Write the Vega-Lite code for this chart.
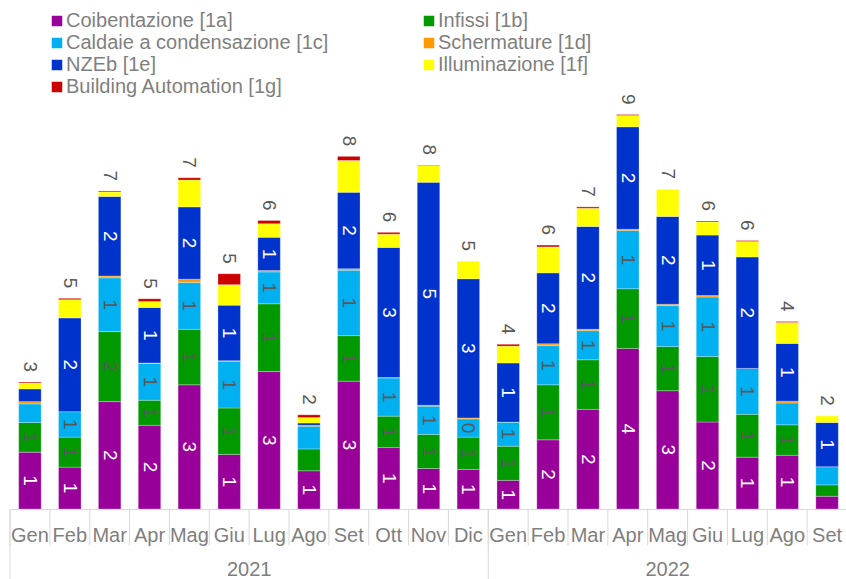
{
  "$schema": "https://vega.github.io/schema/vega-lite/v6.json",
  "width": 837,
  "height": 455,
  "padding": {"left": 9, "top": 11, "right": 0, "bottom": 0},
  "config": {"font": "Liberation Sans", "view": {"stroke": null}},
  "datasets": {
    "bars": [
      {"m":"2021-01","s":"1a","v":1.25,"l":"1"},{"m":"2021-01","s":"1b","v":0.65,"l":"1"},{"m":"2021-01","s":"1c","v":0.41,"l":""},{"m":"2021-01","s":"1d","v":0.05,"l":""},{"m":"2021-01","s":"1e","v":0.28,"l":""},{"m":"2021-01","s":"1f","v":0.13,"l":""},{"m":"2021-01","s":"1g","v":0.02,"l":""},
      {"m":"2021-02","s":"1a","v":0.92,"l":"1"},{"m":"2021-02","s":"1b","v":0.66,"l":"1"},{"m":"2021-02","s":"1c","v":0.56,"l":"1"},{"m":"2021-02","s":"1d","v":0,"l":""},{"m":"2021-02","s":"1e","v":2.06,"l":"2"},{"m":"2021-02","s":"1f","v":0.40,"l":""},{"m":"2021-02","s":"1g","v":0.03,"l":""},
      {"m":"2021-03","s":"1a","v":2.36,"l":"2"},{"m":"2021-03","s":"1b","v":1.54,"l":"2"},{"m":"2021-03","s":"1c","v":1.18,"l":"1"},{"m":"2021-03","s":"1d","v":0.04,"l":""},{"m":"2021-03","s":"1e","v":1.75,"l":"2"},{"m":"2021-03","s":"1f","v":0.10,"l":""},{"m":"2021-03","s":"1g","v":0.02,"l":""},
      {"m":"2021-04","s":"1a","v":1.84,"l":"2"},{"m":"2021-04","s":"1b","v":0.55,"l":"1"},{"m":"2021-04","s":"1c","v":0.81,"l":"1"},{"m":"2021-04","s":"1d","v":0.01,"l":""},{"m":"2021-04","s":"1e","v":1.22,"l":"1"},{"m":"2021-04","s":"1f","v":0.13,"l":""},{"m":"2021-04","s":"1g","v":0.06,"l":""},
      {"m":"2021-05","s":"1a","v":2.73,"l":"3"},{"m":"2021-05","s":"1b","v":1.22,"l":"1"},{"m":"2021-05","s":"1c","v":1.03,"l":"1"},{"m":"2021-05","s":"1d","v":0.07,"l":""},{"m":"2021-05","s":"1e","v":1.59,"l":"2"},{"m":"2021-05","s":"1f","v":0.59,"l":""},{"m":"2021-05","s":"1g","v":0.05,"l":""},
      {"m":"2021-06","s":"1a","v":1.20,"l":"1"},{"m":"2021-06","s":"1b","v":1.02,"l":"1"},{"m":"2021-06","s":"1c","v":1.03,"l":"1"},{"m":"2021-06","s":"1d","v":0.01,"l":""},{"m":"2021-06","s":"1e","v":1.22,"l":"1"},{"m":"2021-06","s":"1f","v":0.45,"l":""},{"m":"2021-06","s":"1g","v":0.24,"l":""},
      {"m":"2021-07","s":"1a","v":3.02,"l":"3"},{"m":"2021-07","s":"1b","v":1.49,"l":"1"},{"m":"2021-07","s":"1c","v":0.70,"l":"1"},{"m":"2021-07","s":"1d","v":0.03,"l":""},{"m":"2021-07","s":"1e","v":0.73,"l":"1"},{"m":"2021-07","s":"1f","v":0.30,"l":""},{"m":"2021-07","s":"1g","v":0.07,"l":""},
      {"m":"2021-08","s":"1a","v":0.84,"l":"1"},{"m":"2021-08","s":"1b","v":0.48,"l":""},{"m":"2021-08","s":"1c","v":0.50,"l":""},{"m":"2021-08","s":"1d","v":0.02,"l":""},{"m":"2021-08","s":"1e","v":0.05,"l":""},{"m":"2021-08","s":"1f","v":0.12,"l":""},{"m":"2021-08","s":"1g","v":0.06,"l":""},
      {"m":"2021-09","s":"1a","v":2.81,"l":"3"},{"m":"2021-09","s":"1b","v":1.00,"l":"1"},{"m":"2021-09","s":"1c","v":1.44,"l":"1"},{"m":"2021-09","s":"1d","v":0.03,"l":""},{"m":"2021-09","s":"1e","v":1.68,"l":"2"},{"m":"2021-09","s":"1f","v":0.70,"l":""},{"m":"2021-09","s":"1g","v":0.09,"l":""},
      {"m":"2021-10","s":"1a","v":1.35,"l":"1"},{"m":"2021-10","s":"1b","v":0.69,"l":"1"},{"m":"2021-10","s":"1c","v":0.84,"l":"1"},{"m":"2021-10","s":"1d","v":0.01,"l":""},{"m":"2021-10","s":"1e","v":2.86,"l":"3"},{"m":"2021-10","s":"1f","v":0.29,"l":""},{"m":"2021-10","s":"1g","v":0.04,"l":""},
      {"m":"2021-11","s":"1a","v":0.89,"l":"1"},{"m":"2021-11","s":"1b","v":0.75,"l":"1"},{"m":"2021-11","s":"1c","v":0.62,"l":"1"},{"m":"2021-11","s":"1d","v":0.02,"l":""},{"m":"2021-11","s":"1e","v":4.90,"l":"5"},{"m":"2021-11","s":"1f","v":0.37,"l":""},{"m":"2021-11","s":"1g","v":0.01,"l":""},
      {"m":"2021-12","s":"1a","v":0.87,"l":"1"},{"m":"2021-12","s":"1b","v":0.71,"l":"1"},{"m":"2021-12","s":"1c","v":0.40,"l":"0"},{"m":"2021-12","s":"1d","v":0.02,"l":""},{"m":"2021-12","s":"1e","v":3.06,"l":"3"},{"m":"2021-12","s":"1f","v":0.39,"l":""},{"m":"2021-12","s":"1g","v":0,"l":""},
      {"m":"2022-01","s":"1a","v":0.63,"l":"1"},{"m":"2022-01","s":"1b","v":0.75,"l":"1"},{"m":"2022-01","s":"1c","v":0.53,"l":"1"},{"m":"2022-01","s":"1d","v":0,"l":""},{"m":"2022-01","s":"1e","v":1.30,"l":"1"},{"m":"2022-01","s":"1f","v":0.37,"l":""},{"m":"2022-01","s":"1g","v":0.04,"l":""},
      {"m":"2022-02","s":"1a","v":1.52,"l":"2"},{"m":"2022-02","s":"1b","v":1.21,"l":"1"},{"m":"2022-02","s":"1c","v":0.86,"l":"1"},{"m":"2022-02","s":"1d","v":0.04,"l":""},{"m":"2022-02","s":"1e","v":1.56,"l":"2"},{"m":"2022-02","s":"1f","v":0.57,"l":""},{"m":"2022-02","s":"1g","v":0.04,"l":""},
      {"m":"2022-03","s":"1a","v":2.19,"l":"2"},{"m":"2022-03","s":"1b","v":1.09,"l":"1"},{"m":"2022-03","s":"1c","v":0.64,"l":"1"},{"m":"2022-03","s":"1d","v":0.03,"l":""},{"m":"2022-03","s":"1e","v":2.26,"l":"2"},{"m":"2022-03","s":"1f","v":0.40,"l":""},{"m":"2022-03","s":"1g","v":0.03,"l":""},
      {"m":"2022-04","s":"1a","v":3.53,"l":"4"},{"m":"2022-04","s":"1b","v":1.31,"l":"1"},{"m":"2022-04","s":"1c","v":1.28,"l":"1"},{"m":"2022-04","s":"1d","v":0.03,"l":""},{"m":"2022-04","s":"1e","v":2.25,"l":"2"},{"m":"2022-04","s":"1f","v":0.25,"l":""},{"m":"2022-04","s":"1g","v":0.02,"l":""},
      {"m":"2022-05","s":"1a","v":2.60,"l":"3"},{"m":"2022-05","s":"1b","v":0.97,"l":"1"},{"m":"2022-05","s":"1c","v":0.90,"l":"1"},{"m":"2022-05","s":"1d","v":0.03,"l":""},{"m":"2022-05","s":"1e","v":1.93,"l":"2"},{"m":"2022-05","s":"1f","v":0.60,"l":""},{"m":"2022-05","s":"1g","v":0,"l":""},
      {"m":"2022-06","s":"1a","v":1.91,"l":"2"},{"m":"2022-06","s":"1b","v":1.44,"l":"1"},{"m":"2022-06","s":"1c","v":1.31,"l":"1"},{"m":"2022-06","s":"1d","v":0.03,"l":""},{"m":"2022-06","s":"1e","v":1.33,"l":"1"},{"m":"2022-06","s":"1f","v":0.29,"l":""},{"m":"2022-06","s":"1g","v":0.02,"l":""},
      {"m":"2022-07","s":"1a","v":1.14,"l":"1"},{"m":"2022-07","s":"1b","v":0.94,"l":"1"},{"m":"2022-07","s":"1c","v":1.01,"l":"1"},{"m":"2022-07","s":"1d","v":0,"l":""},{"m":"2022-07","s":"1e","v":2.45,"l":"2"},{"m":"2022-07","s":"1f","v":0.34,"l":""},{"m":"2022-07","s":"1g","v":0.02,"l":""},
      {"m":"2022-08","s":"1a","v":1.18,"l":"1"},{"m":"2022-08","s":"1b","v":0.67,"l":"1"},{"m":"2022-08","s":"1c","v":0.48,"l":""},{"m":"2022-08","s":"1d","v":0.04,"l":""},{"m":"2022-08","s":"1e","v":1.27,"l":"1"},{"m":"2022-08","s":"1f","v":0.46,"l":""},{"m":"2022-08","s":"1g","v":0.02,"l":""},
      {"m":"2022-09","s":"1a","v":0.28,"l":""},{"m":"2022-09","s":"1b","v":0.25,"l":""},{"m":"2022-09","s":"1c","v":0.40,"l":""},{"m":"2022-09","s":"1d","v":0,"l":""},{"m":"2022-09","s":"1e","v":0.97,"l":"1"},{"m":"2022-09","s":"1f","v":0.15,"l":""},{"m":"2022-09","s":"1g","v":0,"l":""}
    ]
  },
  "layer": [
    {
      "data": {"name": "bars"},
      "mark": {"type": "bar", "width": 22.5, "stroke": "#ffffff", "strokeWidth": 0.6, "strokeOpacity": 0.45},
      "encoding": {
        "x": {"field": "m", "type": "ordinal", "scale": {"paddingInner": 0, "paddingOuter": 0},
          "axis": {"title": null, "labelAngle": 0, "labelExpr": "['Gen','Feb','Mar','Apr','Mag','Giu','Lug','Ago','Set','Ott','Nov','Dic'][toNumber(slice(datum.value,5))-1]",
            "labelFontSize": 20, "labelColor": "#7f7f7f", "labelOverlap": false, "labelBound": false,
            "ticks": false, "domainColor": "#d9d9d9", "labelPadding": 26, "labelBaseline": "middle"}},
        "y": {"field": "v", "type": "quantitative", "stack": "zero", "scale": {"domain": [0, 10], "nice": false}, "axis": null},
        "color": {"field": "s", "type": "nominal",
          "scale": {"domain": ["1a","1c","1e","1g","1b","1d","1f"], "range": ["#990099","#00b0f0","#0033cc","#cc0000","#009900","#ff9900","#ffff00"]},
          "legend": {"orient": "none", "legendX": 37, "legendY": -43, "columns": 2, "columnPadding": 90, "rowPadding": 2,
            "symbolType": "square", "symbolSize": 144, "labelFontSize": 20, "labelColor": "#7f7f7f",
            "title": null, "labelOffset": -1, "labelLimit": 400,
            "labelExpr": "datum.label=='1a'?'Coibentazione [1a]':datum.label=='1b'?'Infissi [1b]':datum.label=='1c'?'Caldaie a condensazione [1c]':datum.label=='1d'?'Schermature [1d]':datum.label=='1e'?'NZEb [1e]':datum.label=='1f'?'Illuminazione [1f]':'Building Automation [1g]'"}},
        "order": {"field": "s", "sort": "ascending"}
      }
    },
    {
      "data": {"name": "bars"},
      "transform": [
        {"stack": "v", "groupby": ["m"], "sort": [{"field": "s", "order": "ascending"}], "as": ["y0", "y1"]},
        {"calculate": "(datum.y0 + datum.y1) / 2", "as": "ym"},
        {"filter": "datum.l != ''"}
      ],
      "mark": {"type": "text", "angle": 90, "align": "center", "baseline": "middle", "fontSize": 19},
      "encoding": {
        "x": {"field": "m", "type": "ordinal"},
        "y": {"field": "ym", "type": "quantitative"},
        "text": {"field": "l"},
        "color": {"condition": {"test": "datum.s=='1a'||datum.s=='1e'", "value": "#ffffff"}, "value": "#595959"}
      }
    },
    {
      "data": {"name": "bars"},
      "transform": [{"aggregate": [{"op": "sum", "field": "v", "as": "tot"}], "groupby": ["m"]}],
      "mark": {"type": "text", "angle": 90, "align": "right", "baseline": "middle", "dx": -10, "fontSize": 19, "color": "#595959"},
      "encoding": {
        "x": {"field": "m", "type": "ordinal"},
        "y": {"field": "tot", "type": "quantitative"},
        "text": {"field": "tot", "type": "quantitative", "format": ".0f"}
      }
    },
    {
      "data": {"name": "bars"},
      "transform": [{"aggregate": [{"op": "count", "as": "n"}], "groupby": ["m"]}],
      "mark": {"type": "rule", "color": "#d9d9d9", "strokeWidth": 1},
      "encoding": {
        "x": {"field": "m", "type": "ordinal", "bandPosition": 0},
        "y": {"datum": 0},
        "y2": {"datum": -0.8}
      }
    },
    {
      "data": {"values": [{"m": "2021-01"}, {"m": "2022-01"}]},
      "mark": {"type": "rule", "color": "#d9d9d9", "strokeWidth": 1},
      "encoding": {
        "x": {"field": "m", "type": "ordinal", "bandPosition": 0},
        "y": {"datum": 0},
        "y2": {"datum": -1.54}
      }
    },
    {
      "data": {"values": [{"m": "2021-07", "year": "2021"}]},
      "mark": {"type": "text", "fontSize": 20, "color": "#7f7f7f", "baseline": "middle", "align": "center"},
      "encoding": {
        "x": {"field": "m", "type": "ordinal", "bandPosition": 0},
        "y": {"datum": -1.34},
        "text": {"field": "year"}
      }
    },
    {
      "data": {"values": [{"m": "2022-05", "year": "2022"}]},
      "mark": {"type": "text", "fontSize": 20, "color": "#7f7f7f", "baseline": "middle", "align": "center"},
      "encoding": {
        "x": {"field": "m", "type": "ordinal", "bandPosition": 0.5},
        "y": {"datum": -1.34},
        "text": {"field": "year"}
      }
    }
  ]
}
